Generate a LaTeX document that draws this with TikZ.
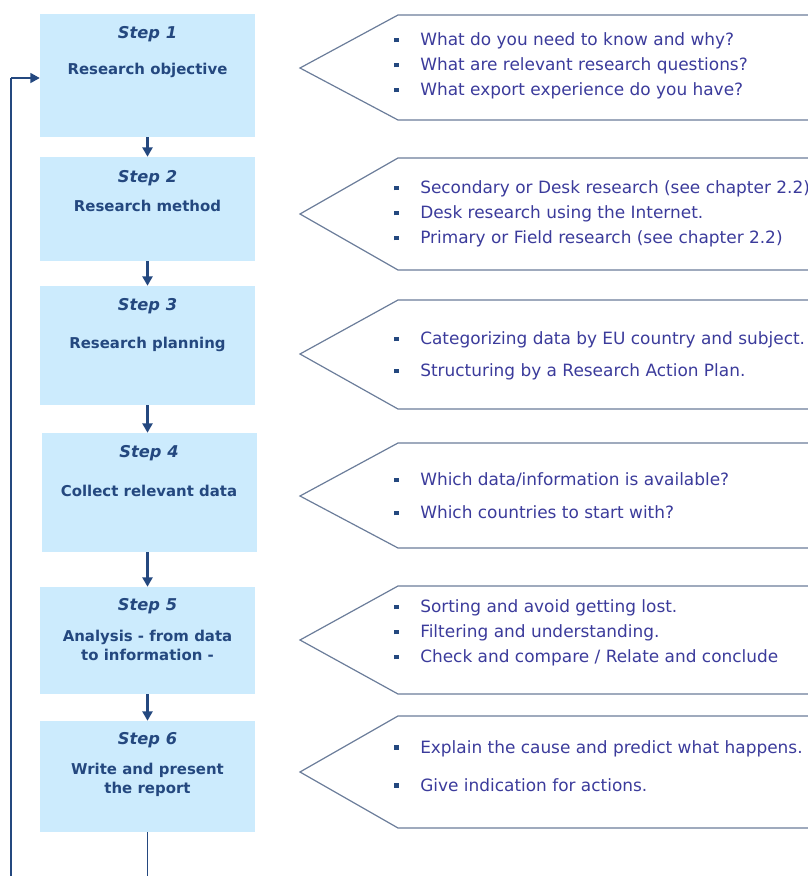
\documentclass[tikz,border=0pt]{standalone}
\usepackage{fontspec}
\setmainfont{DejaVu Sans}
\usepackage{tikz}
\usetikzlibrary{positioning, arrows.meta}
\definecolor{stepFill}{HTML}{CCEBFD}
\definecolor{stepNavy}{HTML}{24487F}
\definecolor{noteText}{HTML}{3B3B9B}
\definecolor{noteLine}{HTML}{6B7D9A}
\newcommand{\bul}{\makebox[19.5pt][l]{\textcolor{stepNavy}{\rule[0.2em]{3.4pt}{3.4pt}}}}

\begin{document}
\begin{tikzpicture}[x=0.75pt, y=-0.75pt,
          stepbox/.style={fill=stepFill, draw=none, minimum width=161.25pt, inner sep=0pt},
          steplbl/.style={text=stepNavy, font=\fontsize{12.2}{14}\selectfont\bfseries\itshape, inner sep=0pt},
          stepname/.style={text=stepNavy, font=\fontsize{11.2}{14.25}\selectfont\bfseries, align=center, inner sep=0pt},
          note/.style={anchor=west, text=noteText, align=left, inner sep=0pt, font=\fontsize{12.7}{18.75}\selectfont},
          callout/.style={draw=noteLine, line width=0.9pt, line join=miter},
          flow/.style={draw=stepNavy, line width=1.6pt, -{Triangle[length=7pt, width=7.5pt]}},
          back/.style={draw=stepNavy, line width=1.1pt},
        ]
        \useasboundingbox (0,0) rectangle (808,876);

        % steps
        \node[stepbox, minimum height=92.25pt] (s1) at (147.5,75.5) {};
        \node[stepbox, minimum height=78pt] (s2) at (147.5,209) {};
        \node[stepbox, minimum height=89.25pt] (s3) at (147.5,345.5) {};
        \node[stepbox, minimum height=89.25pt] (s4) at (149,492.5) {};
        \node[stepbox, minimum height=80.25pt] (s5) at (147.5,640.5) {};
        \node[stepbox, minimum height=83.25pt] (s6) at (147.5,776.5) {};

        \node[steplbl] (t1) at (147.5,34) {Step 1};
        \node[stepname] (n1) at (147.5,70) {Research objective};
        \node[steplbl] (t2) at (147.5,178) {Step 2};
        \node[stepname] (n2) at (147.5,206) {Research method};
        \node[steplbl] (t3) at (147.5,306) {Step 3};
        \node[stepname] (n3) at (147.5,344) {Research planning};
        \node[steplbl] (t4) at (149,453) {Step 4};
        \node[stepname] (n4) at (149,491) {Collect relevant data};
        \node[steplbl] (t5) at (147.5,606) {Step 5};
        \node[stepname] (n5) at (147.5,645.5) {Analysis - from data\\to information -};
        \node[steplbl] (t6) at (147.5,740) {Step 6};
        \node[stepname] (n6) at (147.5,779.5) {Write and present\\the report};

        \draw[flow] (s1.south) -- (s1.south |- s2.north);
        \draw[flow] (s2.south) -- (s2.south |- s3.north);
        \draw[flow] (s3.south) -- (s3.south |- s4.north);
        \draw[flow] (s4.south -| s3.south) -- (s3.south |- s5.north);
        \draw[flow] (s5.south) -- (s5.south |- s6.north);

        % loop back to step 1
        \coordinate (b6) at (148,876);
        \coordinate (bl) at (11,876);
        \coordinate (fb) at (11,78);
        \draw[back] (s6.south) -- (s6.south |- b6);
        \draw[back] (bl) -- (fb);
        \draw[flow, line width=1.1pt] (fb) -- (s1.west |- fb);

        % callouts
        \draw[callout] (808,15) -- (398,15) -- (300,68) -- (398,120) -- (808,120);
        \draw[callout] (808,158) -- (398,158) -- (300,214) -- (398,270) -- (808,270);
        \draw[callout] (808,300) -- (398,300) -- (300,354) -- (398,409) -- (808,409);
        \draw[callout] (808,443) -- (398,443) -- (300,496) -- (398,548) -- (808,548);
        \draw[callout] (808,586) -- (398,586) -- (300,640) -- (398,694) -- (808,694);
        \draw[callout] (808,716) -- (398,716) -- (300,772) -- (398,828) -- (808,828);

        \node[note] (c1) at (394,66) {\bul What do you need to know and why?\\\bul What are relevant research questions?\\\bul What export experience do you have?};
        \node[note] (c2) at (394,214) {\bul Secondary or Desk research (see chapter 2.2)\\\bul Desk research using the Internet.\\\bul Primary or Field research (see chapter 2.2)};
        \node[note, font=\fontsize{12.7}{24}\selectfont] (c3) at (394,356) {\bul Categorizing data by EU country and subject.\\\bul Structuring by a Research Action Plan.};
        \node[note, font=\fontsize{12.7}{24.75}\selectfont] (c4) at (394,496) {\bul Which data/information is available?\\\bul Which countries to start with?};
        \node[note] (c5) at (394,633) {\bul Sorting and avoid getting lost.\\\bul Filtering and understanding.\\\bul Check and compare / Relate and conclude};
        \node[note, font=\fontsize{12.7}{28.5}\selectfont] (c6) at (394,766) {\bul Explain the cause and predict what happens.\\\bul Give indication for actions.};
      \end{tikzpicture}
\end{document}
